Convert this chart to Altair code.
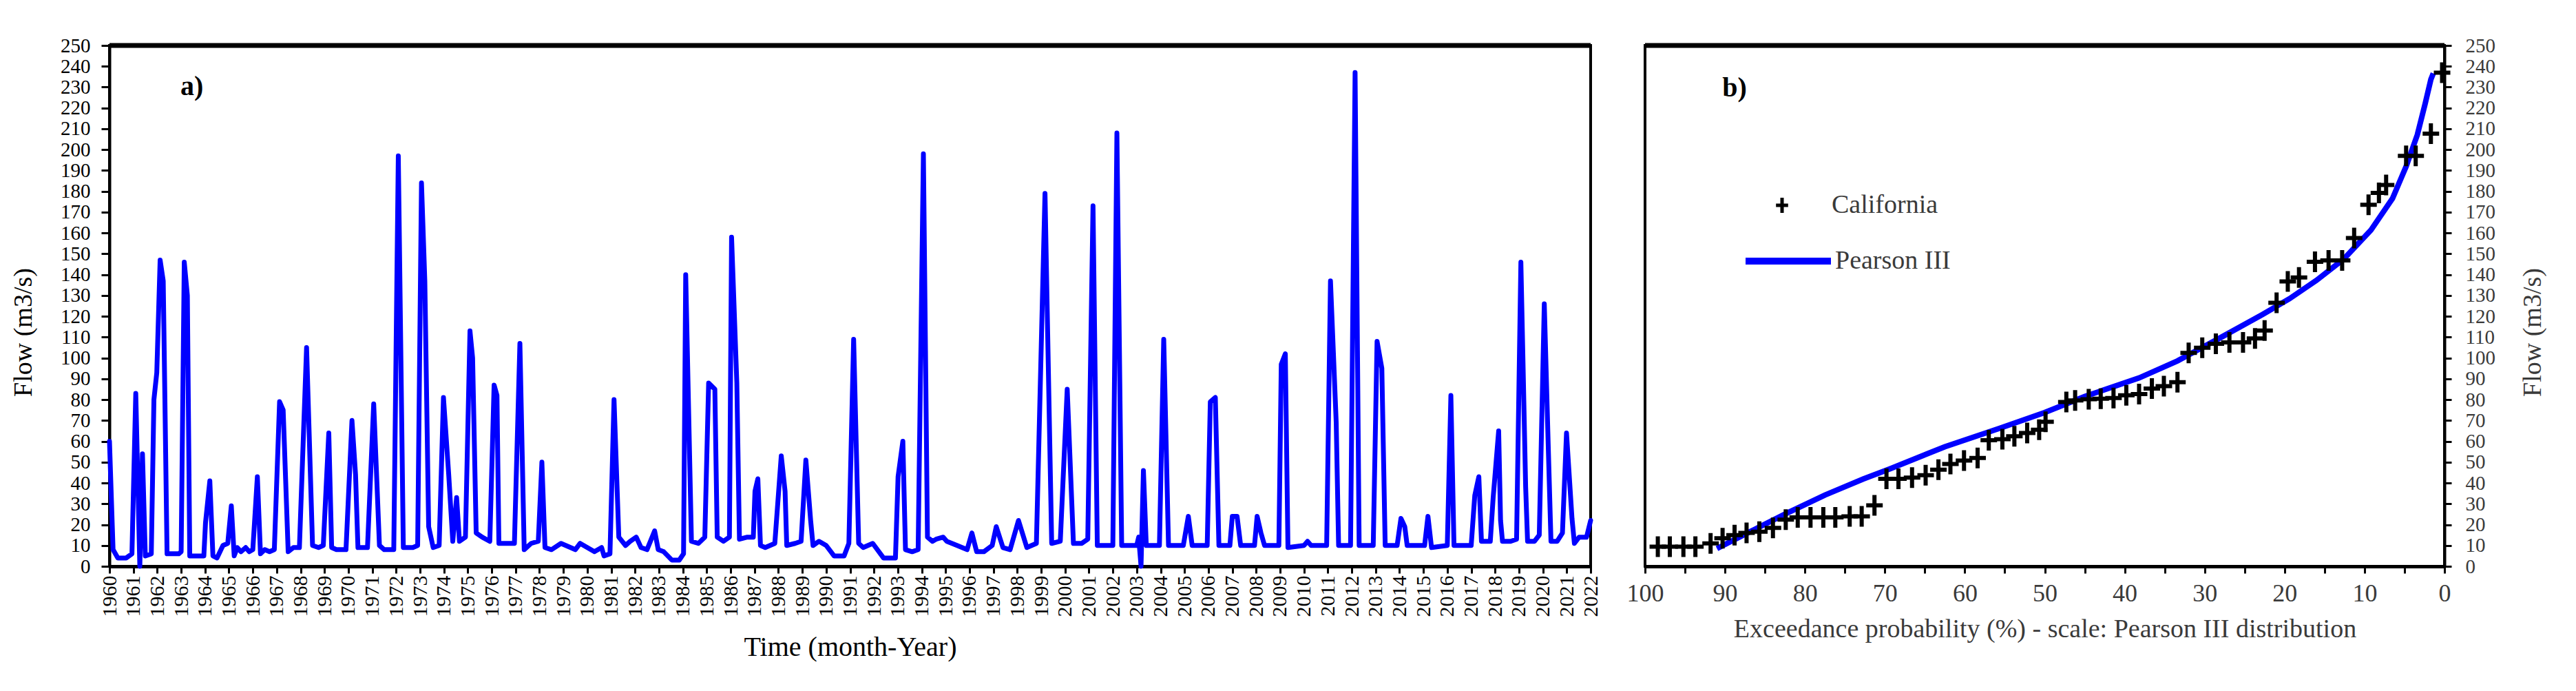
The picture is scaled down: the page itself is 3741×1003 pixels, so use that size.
import altair as alt
import pandas as pd

FONT = "Liberation Serif"

# ---------------- Panel a: flow time series ----------------
ts_year = [
    1960.00, 1960.15, 1960.35, 1960.70, 1960.94, 1961.10, 1961.27, 1961.38, 1961.50, 1961.75,
    1961.86, 1961.98, 1962.12, 1962.25, 1962.41, 1962.90, 1963.00, 1963.13, 1963.26, 1963.36,
    1963.95, 1964.02, 1964.20, 1964.33, 1964.50, 1964.75, 1964.95, 1965.10, 1965.22, 1965.35,
    1965.50, 1965.70, 1965.85, 1966.00, 1966.19, 1966.32, 1966.50, 1966.70, 1966.90, 1967.12,
    1967.27, 1967.48, 1967.70, 1967.95, 1968.25, 1968.50, 1968.75, 1968.95, 1969.18, 1969.30,
    1969.50, 1969.90, 1970.15, 1970.30, 1970.40, 1970.80, 1971.06, 1971.30, 1971.50, 1971.90,
    1972.09, 1972.30, 1972.70, 1972.90, 1973.06, 1973.20, 1973.36, 1973.55, 1973.80, 1973.98,
    1974.20, 1974.37, 1974.53, 1974.65, 1974.90, 1975.09, 1975.20, 1975.35, 1975.60, 1975.92,
    1976.10, 1976.22, 1976.30, 1976.60, 1976.95, 1977.18, 1977.36, 1977.65, 1977.95, 1978.10,
    1978.23, 1978.50, 1978.90, 1979.10, 1979.50, 1979.70, 1980.00, 1980.30, 1980.60, 1980.70,
    1980.95, 1981.12, 1981.32, 1981.60, 1981.80, 1982.05, 1982.25, 1982.50, 1982.82, 1982.97,
    1983.20, 1983.54, 1983.85, 1984.03, 1984.12, 1984.36, 1984.65, 1984.92, 1985.08, 1985.34,
    1985.44, 1985.70, 1985.95, 1986.04, 1986.26, 1986.37, 1986.70, 1986.95, 1987.02, 1987.14,
    1987.25, 1987.45, 1987.85, 1988.12, 1988.28, 1988.35, 1988.70, 1988.95, 1989.15, 1989.35,
    1989.45, 1989.70, 1990.00, 1990.33, 1990.75, 1990.95, 1991.15, 1991.36, 1991.55, 1991.95,
    1992.40, 1992.90, 1993.01, 1993.21, 1993.32, 1993.60, 1993.85, 1994.07, 1994.24, 1994.45,
    1994.60, 1994.90, 1995.05, 1995.48, 1995.90, 1996.10, 1996.30, 1996.60, 1996.95, 1997.12,
    1997.40, 1997.70, 1998.05, 1998.40, 1998.80, 1999.16, 1999.44, 1999.80, 2000.09, 2000.35,
    2000.70, 2000.95, 2001.17, 2001.35, 2002.00, 2002.17, 2002.37, 2003.00, 2003.08, 2003.18,
    2003.28, 2003.40, 2003.95, 2004.13, 2004.33, 2004.95, 2005.16, 2005.32, 2005.95, 2006.08,
    2006.29, 2006.44, 2006.90, 2007.00, 2007.20, 2007.35, 2007.93, 2008.04, 2008.20, 2008.35,
    2008.95, 2009.05, 2009.22, 2009.33, 2010.00, 2010.15, 2010.30, 2010.95, 2011.11, 2011.35,
    2011.45, 2011.95, 2012.14, 2012.31, 2012.90, 2013.06, 2013.26, 2013.40, 2013.90, 2014.06,
    2014.22, 2014.32, 2015.05, 2015.19, 2015.34, 2016.00, 2016.15, 2016.28, 2017.00, 2017.15,
    2017.32, 2017.43, 2017.80, 2017.92, 2018.15, 2018.23, 2018.31, 2018.65, 2018.90, 2019.08,
    2019.28, 2019.36, 2019.65, 2019.85, 2020.06, 2020.23, 2020.34, 2020.60, 2020.82, 2020.99,
    2021.22, 2021.32, 2021.52, 2021.83, 2022.00,
]
ts_flow = [
    60, 8, 4, 4, 6, 83, 0, 54, 5, 6,
    80, 93, 147, 137, 6, 6, 7, 146, 130, 5,
    5, 21, 41, 5, 4, 10, 11, 29, 5, 9,
    7, 9, 7, 8, 43, 6, 8, 7, 8, 79,
    75, 7, 9, 9, 105, 10, 9, 10, 64, 9,
    8, 8, 70, 44, 9, 9, 78, 10, 8, 8,
    197, 9, 9, 10, 184, 137, 19, 9, 10, 81,
    44, 12, 33, 12, 14, 113, 100, 16, 14, 12,
    87, 82, 11, 11, 11, 107, 8, 11, 12, 50,
    9, 8, 11, 10, 8, 11, 9, 7, 9, 5,
    6, 80, 14, 10, 12, 14, 9, 8, 17, 8,
    7, 3, 3, 6, 140, 12, 11, 14, 88, 85,
    14, 12, 14, 158, 88, 13, 14, 14, 36, 42,
    10, 9, 11, 53, 36, 10, 11, 12, 51, 22,
    10, 12, 10, 5, 5, 11, 109, 11, 9, 11,
    4, 4, 43, 60, 8, 7, 8, 198, 14, 12,
    13, 14, 12, 10, 8, 16, 7, 7, 10, 19,
    9, 8, 22, 9, 11, 179, 11, 12, 85, 11,
    11, 13, 173, 10, 10, 208, 10, 10, 14, 0,
    46, 10, 10, 109, 10, 10, 24, 10, 10, 79,
    81, 10, 10, 24, 24, 10, 10, 24, 16, 10,
    10, 97, 102, 9, 10, 12, 10, 10, 137, 69,
    10, 10, 237, 10, 10, 108, 95, 10, 10, 23,
    19, 10, 10, 24, 9, 10, 82, 10, 10, 34,
    43, 12, 12, 33, 65, 22, 12, 12, 13, 146,
    38, 12, 12, 15, 126, 56, 12, 12, 16, 64,
    23, 11, 14, 14, 22,
]
year_ticks = list(range(1960, 2023))
flow_ticks = list(range(0, 251, 10))

# ---------------- Panel b: exceedance probability ----------------
obs_prob = [
    98.4, 96.9, 95.2, 93.7, 91.8, 90.3, 88.8, 87.3, 85.7, 84.0,
    82.4, 80.9, 79.3, 77.7, 76.2, 74.4, 72.9, 71.3, 69.8, 68.3,
    66.6, 64.9, 63.3, 61.8, 60.1, 58.4, 57.0, 55.3, 53.8, 52.2,
    50.7, 49.9, 47.3, 46.2, 44.5, 43.0, 41.4, 39.8, 38.2, 36.6,
    35.1, 33.4, 32.0, 30.3, 28.6, 26.9, 25.2, 23.7, 22.5, 21.0,
    19.6, 18.2, 16.2, 14.5, 12.8, 11.3, 9.5, 8.2, 7.3, 4.8,
    3.6, 1.7, 0.3,
]
obs_flow = [
    9.4, 9.4, 9.4, 9.4, 11.0, 13.5, 15.0, 16.0, 16.6, 18.4,
    22.4, 23.5, 23.5, 23.5, 23.5, 24.0, 24.0, 29.3, 42.0, 42.0,
    42.6, 43.7, 46.4, 49.1, 50.8, 52.0, 60.5, 61.0, 62.4, 64.0,
    65.6, 69.4, 78.9, 79.6, 80.2, 80.4, 80.8, 82.1, 82.7, 85.3,
    86.5, 88.4, 102.4, 104.9, 106.8, 107.5, 107.5, 109.4, 113.2, 126.5,
    136.7, 138.6, 146.2, 146.8, 146.8, 157.6, 173.5, 179.2, 183.0, 197.0,
    197.0, 207.7, 236.9,
]
p3_prob = [91.0, 86.3, 82.3, 77.5, 72.7, 69.3, 62.5, 55.6, 50.0, 45.0, 38.2, 33.4,
           27.9, 22.8, 19.4, 16.0, 12.6, 9.2, 6.5, 4.8, 3.4, 2.4, 1.7, 1.4]
p3_flow = [8.5, 17.7, 25.4, 34.2, 41.9, 46.9, 57.4, 66.3, 73.8, 81.5, 90.4, 98.6,
           110.0, 120.8, 128.4, 137.3, 147.5, 161.4, 176.6, 191.9, 207.1, 222.3, 233.7, 236.6]
prob_ticks = list(range(0, 101, 5))

series_obs = "California"
series_fit = "Pearson III"

CROSS = "M-0.8,0H0.8M0,-1V1"
GRAY = "#3a3a3a"

# ---------------- Panel a ----------------
ts_df = pd.DataFrame({"year": ts_year, "flow": ts_flow})

x_a = alt.X(
    "year:Q",
    scale=alt.Scale(domain=[1960, 2022], nice=False, zero=False),
    axis=alt.Axis(values=year_ticks, format="d", labelAngle=270, labelFontSize=30,
                  labelPadding=3, tickSize=10, labelOverlap=False, labelFlush=False,
                  labelBound=False, title="Time (month-Year)", titleFontSize=40,
                  titlePadding=24, domainWidth=5),
)
y_a = alt.Y(
    "flow:Q",
    scale=alt.Scale(domain=[0, 250], nice=False),
    axis=alt.Axis(values=flow_ticks, title="Flow (m3/s)", labelFontSize=29, tickSize=12,
                  labelPadding=16, titlePadding=34, titleFontSize=38, titleY=416,
                  labelOverlap=False, labelFlush=False),
)

line_a = alt.Chart(ts_df).mark_line(
    color="#0000FF", strokeWidth=7, strokeJoin="round", strokeCap="round", clip=False
).encode(x=x_a, y=y_a)

top_a = alt.Chart(pd.DataFrame({"flow": [250]})).mark_rule(color="black", strokeWidth=7).encode(
    y=y_a
)

lab_a = alt.Chart(pd.DataFrame({"year": [1963.45], "flow": [230.0], "t": ["a)"]})).mark_text(
    font=FONT, fontSize=40, fontWeight="bold", color="black"
).encode(x=x_a, y=y_a, text="t:N")

panel_a = alt.layer(line_a, top_a, lab_a).properties(width=2151, height=756)

# ---------------- Panel b ----------------
obs_df = pd.DataFrame({"prob": obs_prob, "flow": obs_flow, "series": series_obs})
fit_df = pd.DataFrame({"prob": p3_prob, "flow": p3_flow, "series2": series_fit})

x_b = alt.X(
    "prob:Q",
    scale=alt.Scale(domain=[0, 100], reverse=True, nice=False),
    axis=alt.Axis(values=prob_ticks, labelExpr="datum.value % 10 === 0 ? datum.label : ''",
                  labelFontSize=36, labelPadding=12, tickSize=10, labelOverlap=False,
                  labelFlush=False, labelColor=GRAY, titleColor=GRAY, titleFontSize=38,
                  title="Exceedance probability (%) - scale: Pearson III distribution",
                  titlePadding=15, domainWidth=5),
)
y_b = alt.Y(
    "flow:Q",
    scale=alt.Scale(domain=[0, 250], nice=False),
    axis=alt.Axis(orient="right", values=flow_ticks, title="Flow (m3/s)", labelFontSize=29,
                  tickSize=10, labelPadding=20, titlePadding=36, titleFontSize=38, titleY=416,
                  labelOverlap=False, labelFlush=False, labelColor=GRAY, titleColor=GRAY,
                  titleAngle=270, titleBaseline="top"),
)

pts_b = alt.Chart(obs_df).mark_point(
    filled=False, color="black", stroke="black", strokeWidth=6, size=900, opacity=1
).encode(
    x=x_b, y=y_b,
    shape=alt.Shape(
        "series:N",
        scale=alt.Scale(domain=[series_obs], range=[CROSS]),
        legend=alt.Legend(title=None, orient="none", legendX=180, legendY=213, padding=0,
                          symbolStrokeColor="black", symbolStrokeWidth=5, symbolSize=484,
                          labelFont=FONT, labelFontSize=38, labelColor=GRAY, labelOffset=53,
                          labelLimit=500),
    ),
)

line_b = alt.Chart(fit_df).mark_line(color="#0000FF", strokeWidth=8).encode(
    x=x_b, y=y_b,
    color=alt.Color(
        "series2:N",
        scale=alt.Scale(domain=[series_fit], range=["#0000FF"]),
        legend=alt.Legend(title=None, orient="none", legendX=141, legendY=246, padding=0,
                          symbolType="stroke", symbolSize=15376, symbolStrokeWidth=10,
                          labelFont=FONT, labelFontSize=38, labelColor=GRAY, labelOffset=1,
                          labelLimit=500),
    ),
)

top_b = alt.Chart(pd.DataFrame({"flow": [250]})).mark_rule(color="black", strokeWidth=7).encode(
    y=y_b
)

lab_b = alt.Chart(pd.DataFrame({"prob": [88.8], "flow": [229.5], "t": ["b)"]})).mark_text(
    font=FONT, fontSize=40, fontWeight="bold", color="black"
).encode(x=x_b, y=y_b, text="t:N")

panel_b = alt.layer(line_b, pts_b, top_b, lab_b).properties(width=1161, height=756)

chart = (
    alt.hconcat(panel_a, panel_b, spacing=79, bounds="flush")
    .resolve_scale(color="independent", shape="independent")
    .resolve_legend(color="independent", shape="independent")
    .properties(padding={"left": 5, "top": 42, "right": 5, "bottom": 5})
    .configure(font=FONT, background="white")
    .configure_view(stroke="black", strokeWidth=4)
    .configure_axis(
        labelFont=FONT, titleFont=FONT, labelColor="black", titleColor="black",
        tickColor="black", domainColor="black", tickWidth=3, domainWidth=4, grid=False,
        titleFontWeight="normal", titleFontSize=36,
    )
)

chart.save("out.html", embed_options={"renderer": "svg", "actions": False})
